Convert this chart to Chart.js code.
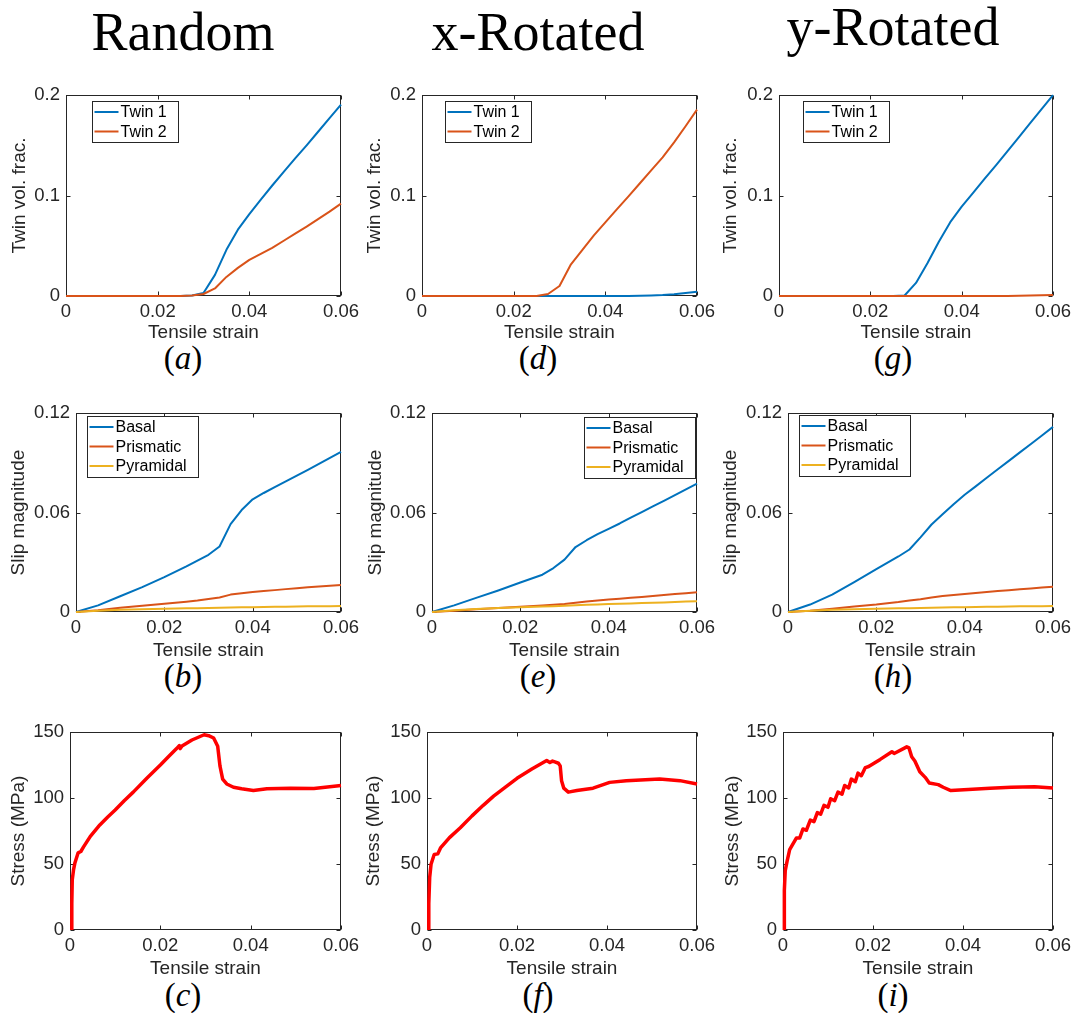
<!DOCTYPE html>
<html>
<head>
<meta charset="utf-8">
<title>Twin and slip activity vs tensile strain</title>
<script src="https://cdn.jsdelivr.net/npm/chart.js@4.4.1/dist/chart.umd.min.js"></script>
<style>
  body { margin: 0; background: #fff; }
  #page { position: relative; width: 1073px; height: 1013px; overflow: hidden; background: #fff; }
  .col-title {
    position: absolute; transform: translateX(-50%); white-space: nowrap; line-height: 1;
    font-family: "Liberation Serif", "Times New Roman", serif; font-size: 54px; color: #000;
  }
  .tag {
    position: absolute; transform: translate(-50%, -50%); white-space: nowrap; line-height: 1;
    font-family: "Liberation Serif", "Times New Roman", serif; font-size: 33px; color: #000;
  }
</style>
</head>
<body>
<div id="page">
  <div class="col-title" style="left:183px; top:5px">Random</div>
  <div class="col-title" style="left:538px; top:5px">x-Rotated</div>
  <div class="col-title" style="left:893px; top:0px">y-Rotated</div>

  <div class="tag" style="left:183px; top:358px">(<i>a</i>)</div>
  <div class="tag" style="left:183px; top:676px">(<i>b</i>)</div>
  <div class="tag" style="left:183px; top:995px">(<i>c</i>)</div>
  <div class="tag" style="left:538px; top:358px">(<i>d</i>)</div>
  <div class="tag" style="left:538px; top:676px">(<i>e</i>)</div>
  <div class="tag" style="left:538px; top:995px">(<i>f</i>)</div>
  <div class="tag" style="left:893px; top:358px">(<i>g</i>)</div>
  <div class="tag" style="left:893px; top:676px">(<i>h</i>)</div>
  <div class="tag" style="left:893px; top:995px">(<i>i</i>)</div>
</div>

<script>
// ---- Data ----

// Strain samples shared by the twin fraction and slip curves
const strainGrid = [0, 0.005, 0.01, 0.015, 0.02, 0.025, 0.0275, 0.03, 0.0325, 0.035,
                    0.0375, 0.04, 0.0425, 0.045, 0.0475, 0.05, 0.0525, 0.055, 0.0575, 0.06];

const twinNames = ['Twin 1', 'Twin 2'];
const slipNames = ['Basal', 'Prismatic', 'Pyramidal'];

const strainTicks = [0, 0.02, 0.04, 0.06];
const twinTicks = [0, 0.1, 0.2];
const slipTicks = [0, 0.06, 0.12];
const stressTicks = [0, 50, 100, 150];

// Twin volume fraction
const twin1Random = [0, 0, 0, 0, 0, 0, 0.0005, 0.003, 0.021, 0.046, 0.066, 0.0815, 0.096, 0.110, 0.1235, 0.137, 0.150, 0.1635, 0.177, 0.1905];
const twin2Random = [0, 0, 0, 0, 0, 0, 0.0005, 0.002, 0.0075, 0.019, 0.028, 0.036, 0.042, 0.048, 0.055, 0.062, 0.069, 0.0765, 0.084, 0.092];
const twin1XRot = [0, 0, 0, 0, 0, 0, 0, 0, 0, 0, 0, 0, 0, 0, 0.0002, 0.0005, 0.001, 0.0018, 0.003, 0.0042];
const twin2XRot = [0, 0, 0, 0, 0, 0, 0.002, 0.010, 0.0316, 0.046, 0.0604, 0.0733, 0.0862, 0.099, 0.112, 0.125, 0.138, 0.153, 0.169, 0.1856];
const twin1YRot = [0, 0, 0, 0, 0, 0, 0.0005, 0.013, 0.0326, 0.054, 0.0735, 0.089, 0.1027, 0.1166, 0.130, 0.144, 0.158, 0.172, 0.186, 0.200];
const twin2YRot = [0, 0, 0, 0, 0, 0, 0, 0, 0, 0, 0, 0, 0, 0, 0, 0, 0.0002, 0.0004, 0.0007, 0.001];

// Slip magnitude
const basalRandom = [0, 0.004, 0.0095, 0.015, 0.021, 0.0275, 0.031, 0.0345, 0.0395, 0.053, 0.0615, 0.068, 0.0718, 0.0753, 0.0788, 0.0823, 0.0858, 0.0894, 0.093, 0.0966];
const prismRandom = [0, 0.001, 0.0025, 0.0037, 0.005, 0.0062, 0.0069, 0.0078, 0.0088, 0.0105, 0.0113, 0.012, 0.0126, 0.0132, 0.0138, 0.0144, 0.015, 0.0154, 0.0158, 0.0163];
const pyrRandom = [0, 0.0008, 0.0013, 0.0017, 0.002, 0.0022, 0.0023, 0.0024, 0.0025, 0.0027, 0.0028, 0.0029, 0.003, 0.0031, 0.0032, 0.0033, 0.0034, 0.0035, 0.0035, 0.0036];
const basalXRot = [0, 0.004, 0.0085, 0.013, 0.0178, 0.0225, 0.0265, 0.0316, 0.0392, 0.0433, 0.047, 0.0502, 0.0534, 0.0569, 0.0603, 0.0637, 0.0671, 0.0705, 0.074, 0.0774];
const prismXRot = [0, 0.0008, 0.0016, 0.0024, 0.0032, 0.0039, 0.0043, 0.0048, 0.0056, 0.0063, 0.0069, 0.0075, 0.008, 0.0086, 0.0091, 0.0097, 0.0102, 0.0108, 0.0113, 0.0119];
const pyrXRot = [0, 0.001, 0.0018, 0.0024, 0.0029, 0.0033, 0.0035, 0.0038, 0.004, 0.0043, 0.0045, 0.0048, 0.005, 0.0052, 0.0054, 0.0056, 0.0058, 0.0061, 0.0063, 0.0065];
const basalYRot = [0, 0.0045, 0.0105, 0.018, 0.0258, 0.0335, 0.0377, 0.045, 0.0528, 0.059, 0.065, 0.0707, 0.0758, 0.081, 0.0861, 0.0912, 0.0963, 0.1014, 0.1065, 0.1117];
const prismYRot = [0, 0.0008, 0.002, 0.0033, 0.0045, 0.006, 0.0069, 0.0077, 0.0088, 0.0096, 0.0103, 0.0109, 0.0115, 0.012, 0.0126, 0.0131, 0.0137, 0.0142, 0.0148, 0.0153];
const pyrYRot = [0, 0.0008, 0.0013, 0.0017, 0.002, 0.0022, 0.0023, 0.0024, 0.0025, 0.0027, 0.0028, 0.0029, 0.003, 0.0031, 0.0032, 0.0033, 0.0034, 0.0035, 0.0035, 0.0036];

// Stress-strain response (MPa), each with its own strain samples
const strainRandom = [0.0004, 0.0004, 0.0005, 0.0008, 0.0011, 0.0018, 0.0024, 0.003, 0.0045, 0.0066, 0.0083, 0.01, 0.012, 0.014,
                      0.017, 0.02, 0.022, 0.0236, 0.0242, 0.0244, 0.0248, 0.027, 0.0297, 0.0307, 0.0318, 0.0327, 0.0332,
                      0.0338, 0.0347, 0.0362, 0.038, 0.0406, 0.0436, 0.0488, 0.054, 0.06];
const stressRandom = [0, 20, 38, 46, 51, 58.5, 59.5, 63, 71, 79.6, 85.5, 91, 98, 104.5,
                      115, 125, 132, 137.5, 139.8, 137.5, 139.5, 144, 148, 147.3, 145.5, 139.3, 124.4,
                      114.4, 110.7, 108.2, 107, 105.7, 107, 107.5, 107.2, 109.5];

const strainXRot = [0.0004, 0.0004, 0.0006, 0.0009, 0.0016, 0.0024, 0.003, 0.005, 0.0074, 0.01, 0.0125, 0.0148, 0.0175,
                    0.02, 0.0233, 0.0266, 0.0273, 0.0279, 0.0284, 0.0292, 0.0296, 0.0299, 0.0304, 0.0314, 0.0333,
                    0.0369, 0.0406, 0.0443, 0.0517, 0.0562, 0.06];
const stressXRot = [0, 20, 40, 49.8, 57.2, 57.7, 62.2, 70, 77.5, 86.5, 94.5, 101.5, 108.5,
                    115, 122, 128.4, 126.9, 128, 127.4, 126.4, 124.4, 113.2, 107.5, 104.5, 105.7,
                    107.5, 111.9, 113.2, 114.4, 113.2, 110.7];

const strainYRot = [0.0003, 0.0003, 0.0005, 0.0009, 0.00148, 0.00296, 0.0037, 0.00444, 0.00519, 0.00607, 0.00689, 0.00763,
                    0.00837, 0.00911, 0.01, 0.01059, 0.01148, 0.01222, 0.01311, 0.0137, 0.01459, 0.01519, 0.01607, 0.01667,
                    0.01741, 0.0183, 0.01904, 0.0216, 0.0242, 0.0247, 0.0275, 0.028, 0.0286, 0.0293, 0.0304, 0.0316,
                    0.0325, 0.0345, 0.0356, 0.0373, 0.046, 0.0507, 0.0559, 0.06];
const stressYRot = [0, 30, 45, 52, 60.9, 69.7, 69.7, 76.6, 75.6, 83.3, 82.1, 89.0,
                    87.8, 94.5, 93.0, 99.5, 98.0, 104.5, 103.0, 109.5, 107.7, 114.4, 112.4, 118.9,
                    116.9, 123.1, 123.9, 129.3, 135.1, 133.8, 138.8, 138.0, 131.3, 128.1, 119.9, 115.7,
                    111.4, 110.2, 108.2, 105.7, 107.5, 108.2, 108.6, 107.7];

// ---- Styling ----
const AXIS_COLOR = '#262626';
const LINE_COLORS = ['#0072BD', '#D95319', '#EDB120'];
const STRESS_COLOR = '#FF0000';
const SANS = '"Liberation Sans", Arial, Helvetica, sans-serif';
const TICK_SIZE = 18.5;
const TITLE_SIZE = 19;
const LEGEND_SIZE = 16;
const PAD_T = 14;
const PAD_R = 26;
// distance from the scale edge to the centre of an axis title line
const TITLE_OFFSET = TITLE_SIZE * 1.2 / 2 + 4;

// Box around the axes with short inward ticks on all four sides
const axesBox = {
    id: 'axesBox',
    beforeDatasetsDraw(chart) {
        const { ctx, chartArea: a, scales } = chart;
        const l = Math.round(a.left) + 0.5, r = Math.round(a.right) - 0.5;
        const t = Math.round(a.top) + 0.5, b = Math.round(a.bottom) - 0.5;
        const len = 4;
        ctx.save();
        ctx.strokeStyle = AXIS_COLOR;
        ctx.lineWidth = 1;
        ctx.strokeRect(l, t, r - l, b - t);
        ctx.beginPath();
        scales.x.ticks.forEach(tk => {
            const px = Math.round(scales.x.getPixelForValue(tk.value)) + 0.5;
            ctx.moveTo(px, b); ctx.lineTo(px, b - len);
            ctx.moveTo(px, t); ctx.lineTo(px, t + len);
        });
        scales.y.ticks.forEach(tk => {
            const py = Math.round(scales.y.getPixelForValue(tk.value)) + 0.5;
            ctx.moveTo(l, py); ctx.lineTo(l + len, py);
            ctx.moveTo(r, py); ctx.lineTo(r - len, py);
        });
        ctx.stroke();
        ctx.restore();
    }
};

// Boxed legend placed inside the axes
const boxLegend = {
    id: 'boxLegend',
    afterDatasetsDraw(chart, args, opts) {
        if (!opts || !opts.at) return;
        const { ctx, chartArea: a } = chart;
        const sets = chart.data.datasets;
        ctx.save();
        ctx.font = `${LEGEND_SIZE}px ${SANS}`;
        const textW = Math.max(...sets.map(d => ctx.measureText(d.label).width));
        const w = Math.round(29 + textW + 11);
        const h = sets.length * 20 + 1;
        const x = Math.round(opts.right ? a.right + opts.at[0] - w : a.left + opts.at[0]) + 0.5;
        const y = Math.round(a.top + opts.at[1]) + 0.5;
        ctx.fillStyle = '#fff';
        ctx.fillRect(x, y, w, h);
        ctx.strokeStyle = AXIS_COLOR;
        ctx.lineWidth = 1;
        ctx.strokeRect(x, y, w, h);
        sets.forEach((d, i) => {
            const cy = y + 10.5 + i * 19.5;
            ctx.strokeStyle = d.borderColor;
            ctx.lineWidth = 2;
            ctx.beginPath();
            ctx.moveTo(x + 2, cy);
            ctx.lineTo(x + 26, cy);
            ctx.stroke();
            ctx.fillStyle = '#000';
            ctx.textBaseline = 'middle';
            ctx.fillText(d.label, x + 28, cy + 1);
        });
        ctx.restore();
    }
};

function pairs(xs, ys) {
    return xs.map((x, i) => ({ x: x, y: ys[i] }));
}

// One entry per axes: plot rectangle [left, top, right, bottom], label positions, legend spot
const panels = [
    { plot: [66, 92, 341, 296], yTitleX: 19, xTitleY: 333, yLabel: 'Twin vol. frac.', yTicks: twinTicks,
      x: [strainGrid, strainGrid], y: [twin1Random, twin2Random], names: twinNames, legend: { at: [26, 6] } },
    { plot: [76, 410, 341, 612], yTitleX: 18, xTitleY: 651, yLabel: 'Slip magnitude', yTicks: slipTicks,
      x: [strainGrid, strainGrid, strainGrid], y: [basalRandom, prismRandom, pyrRandom], names: slipNames, legend: { at: [11, 3] } },
    { plot: [70, 729, 341, 930], yTitleX: 18, xTitleY: 969, yLabel: 'Stress (MPa)', yTicks: stressTicks,
      x: [strainRandom], y: [stressRandom], names: ['Stress'], stress: true },

    { plot: [422, 92, 697, 296], yTitleX: 374, xTitleY: 333, yLabel: 'Twin vol. frac.', yTicks: twinTicks,
      x: [strainGrid, strainGrid], y: [twin1XRot, twin2XRot], names: twinNames, legend: { at: [23, 6] } },
    { plot: [432, 410, 697, 612], yTitleX: 375, xTitleY: 651, yLabel: 'Slip magnitude', yTicks: slipTicks,
      x: [strainGrid, strainGrid, strainGrid], y: [basalXRot, prismXRot, pyrXRot], names: slipNames, legend: { at: [-2, 4], right: true } },
    { plot: [427, 729, 697, 930], yTitleX: 373, xTitleY: 969, yLabel: 'Stress (MPa)', yTicks: stressTicks,
      x: [strainXRot], y: [stressXRot], names: ['Stress'], stress: true },

    { plot: [779, 92, 1053, 296], yTitleX: 730, xTitleY: 333, yLabel: 'Twin vol. frac.', yTicks: twinTicks,
      x: [strainGrid, strainGrid], y: [twin1YRot, twin2YRot], names: twinNames, legend: { at: [24, 6] } },
    { plot: [788, 410, 1053, 612], yTitleX: 730, xTitleY: 651, yLabel: 'Slip magnitude', yTicks: slipTicks,
      x: [strainGrid, strainGrid, strainGrid], y: [basalYRot, prismYRot, pyrYRot], names: slipNames, legend: { at: [11, 2] } },
    { plot: [783, 729, 1053, 930], yTitleX: 732, xTitleY: 969, yLabel: 'Stress (MPa)', yTicks: stressTicks,
      x: [strainYRot], y: [stressYRot], names: ['Stress'], stress: true }
];

const page = document.getElementById('page');

panels.forEach(p => {
    const [pl, pt, pr, pb] = p.plot;
    const left = Math.round(p.yTitleX - TITLE_OFFSET);
    const top = pt - PAD_T;
    const width = pr + PAD_R - left;
    const height = Math.round(p.xTitleY + TITLE_OFFSET) - top;
    const yAxisW = pl - left;
    const xAxisH = height - (pb - top);

    const canvas = document.createElement('canvas');
    canvas.width = width;
    canvas.height = height;
    canvas.style.cssText = `position:absolute;left:${left}px;top:${top}px;width:${width}px;height:${height}px`;
    page.appendChild(canvas);

    const datasets = p.y.map((ys, i) => ({
        label: p.names[i],
        data: pairs(p.x[i], ys),
        borderColor: p.stress ? STRESS_COLOR : LINE_COLORS[i],
        borderWidth: p.stress ? 3.5 : 2,
        pointRadius: 0,
        tension: 0,
        fill: false,
        clip: 5,
        order: -i,
        borderJoinStyle: 'round'
    }));

    const tickFont = { family: SANS, size: TICK_SIZE };
    const titleFont = { family: SANS, size: TITLE_SIZE };

    new Chart(canvas, {
        type: 'line',
        data: { datasets: datasets },
        options: {
            responsive: false,
            animation: false,
            events: [],
            layout: { padding: { top: PAD_T, right: PAD_R, left: 0, bottom: 0 } },
            plugins: {
                legend: { display: false },
                tooltip: { enabled: false },
                boxLegend: p.legend || {}
            },
            scales: {
                x: {
                    type: 'linear',
                    min: 0,
                    max: 0.06,
                    afterBuildTicks: s => { s.ticks = strainTicks.map(v => ({ value: v })); },
                    afterFit: s => { s.height = xAxisH; },
                    grid: { display: false, drawTicks: false },
                    border: { display: false },
                    ticks: { color: AXIS_COLOR, font: tickFont, padding: 5, maxRotation: 0, autoSkip: false,
                             callback: v => String(v) },
                    title: { display: true, text: 'Tensile strain', color: AXIS_COLOR, font: titleFont,
                             padding: { top: 4, bottom: 4 } }
                },
                y: {
                    type: 'linear',
                    min: 0,
                    max: p.yTicks[p.yTicks.length - 1],
                    afterBuildTicks: s => { s.ticks = p.yTicks.map(v => ({ value: v })); },
                    afterFit: s => { s.width = yAxisW; },
                    grid: { display: false, drawTicks: false },
                    border: { display: false },
                    ticks: { color: AXIS_COLOR, font: tickFont, padding: 6, autoSkip: false,
                             callback: v => String(v) },
                    title: { display: true, text: p.yLabel, color: AXIS_COLOR, font: titleFont,
                             padding: { top: 4, bottom: 4 } }
                }
            }
        },
        plugins: [axesBox, boxLegend]
    });
});
</script>
</body>
</html>
